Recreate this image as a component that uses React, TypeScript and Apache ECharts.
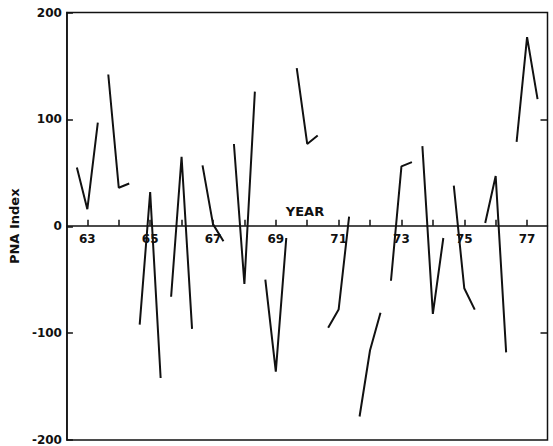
import React, { useEffect, useRef } from "react";
import * as echarts from "echarts";

// Winter seasons (year of January), each with Dec, Jan, Feb PNA index values
const years: number[] = [63, 64, 65, 66, 67, 68, 69, 70, 71, 72, 73, 74, 75, 76, 77];
const decValues: number[] = [55, 142, -92, -66, 57, 77, -50, 148, -95, -178, -51, 75, 38, 3, 79];
const janValues: number[] = [16, 36, 32, 65, 2, -54, -136, 77, -78, -116, 56, -82, -58, 47, 177];
const febValues: number[] = [97, 40, -142, -96, -14, 126, -11, 85, 9, -81, 60, -11, -78, -118, 119];
const monthOffsets: number[] = [-1 / 3, 0, 1 / 3];

const xTickValues: number[] = [63, 64, 65, 66, 67, 68, 69, 70, 71, 72, 73, 74, 75, 76, 77];
const xLabelValues: number[] = [63, 65, 67, 69, 71, 73, 75, 77];
const rightTickValues: number[] = [-100, 100];

const FONT = "DejaVu Sans";
const GRID_TOP = 12.5;
const GRID_BOTTOM = 5;
const CHART_H = 446;

export default function App() {
  const ref = useRef<HTMLDivElement>(null);
  useEffect(() => {
    if (!ref.current) return;
    const chart = echarts.init(ref.current, null, { renderer: "svg" });
    const plotH = CHART_H - GRID_TOP - GRID_BOTTOM;
    const series = years.map((y, i) => ({
      type: "line",
      data: [decValues[i], janValues[i], febValues[i]].map((v, k) => [y + monthOffsets[k], v]),
      symbol: "none",
      silent: true,
      lineStyle: { color: "#111", width: 2 },
      yAxisIndex: 0,
    }));
    chart.setOption({
      animation: false,
      backgroundColor: "#fff",
      grid: {
        left: 57,
        right: 5.5,
        top: GRID_TOP,
        bottom: GRID_BOTTOM,
        show: true,
        borderColor: "#111",
        borderWidth: 1.5,
      },
      xAxis: {
        type: "value",
        position: "bottom",
        min: 62.35,
        max: 77.65,
        offset: -plotH / 2,
        axisLine: { show: true, onZero: false, lineStyle: { color: "#111", width: 1.5 } },
        axisTick: { show: true, inside: true, length: 6, customValues: xTickValues, lineStyle: { color: "#111", width: 1.5 } },
        axisLabel: {
          show: true,
          customValues: xLabelValues,
          margin: 7,
          color: "#111",
          fontFamily: FONT,
          fontWeight: "bold",
          fontSize: 12,
          formatter: (v: number) => String(Math.round(v)),
        },
        splitLine: { show: false },
      },
      yAxis: [
        {
          type: "value",
          min: -200,
          max: 200,
          interval: 100,
          name: "PNA Index",
          nameLocation: "middle",
          nameRotate: 90,
          nameGap: 33,
          nameTextStyle: { color: "#111", fontFamily: FONT, fontWeight: "bold", fontSize: 13 },
          axisLine: { show: true, lineStyle: { color: "#111", width: 1.5 } },
          axisTick: { show: true, inside: true, length: 6, lineStyle: { color: "#111", width: 1.5 } },
          axisLabel: { margin: 5, color: "#111", fontFamily: FONT, fontWeight: "bold", fontSize: 12 },
          splitLine: { show: false },
        },
        {
          type: "value",
          position: "right",
          min: -200,
          max: 200,
          axisLine: { show: false },
          axisTick: { show: true, inside: true, length: 7, customValues: rightTickValues, lineStyle: { color: "#111", width: 1.5 } },
          axisLabel: { show: false },
          splitLine: { show: false },
        },
      ],
      graphic: [
        {
          type: "text",
          x: 305,
          y: 211,
          style: {
            text: "YEAR",
            fill: "#111",
            font: `bold 13px "${FONT}"`,
            textAlign: "center",
            textVerticalAlign: "middle",
          },
        },
      ],
      series,
    });
    return () => chart.dispose();
  }, []);
  return (
    <div
      ref={ref}
      style={{ position: "fixed", left: 0, top: 0, width: 553, height: 446, background: "#fff" }}
    />
  );
}
